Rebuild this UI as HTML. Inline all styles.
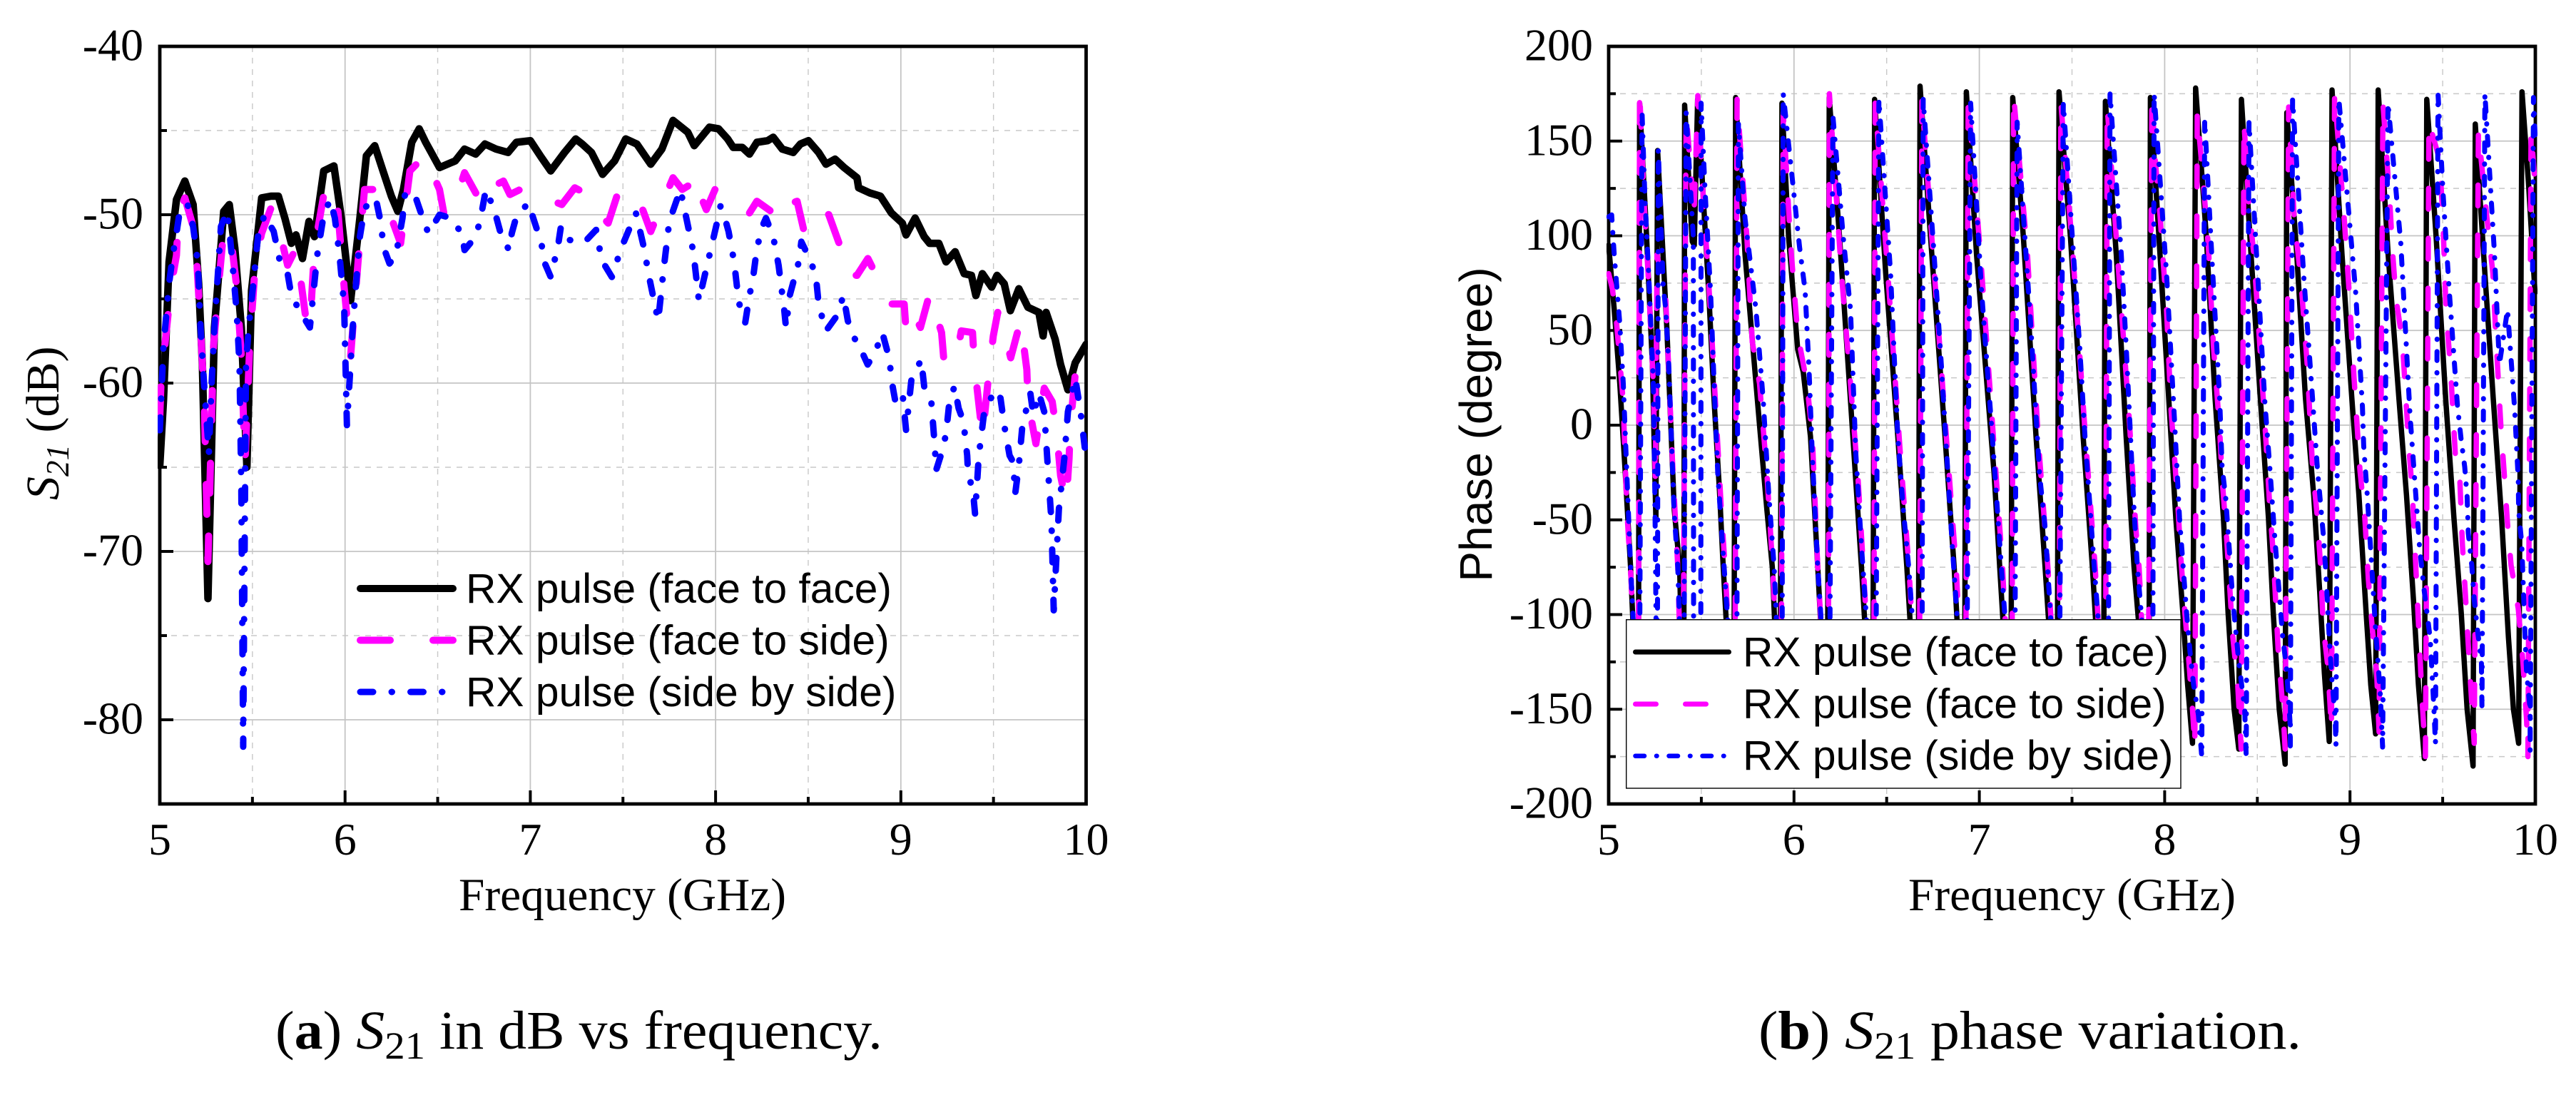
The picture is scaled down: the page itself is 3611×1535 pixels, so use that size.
<!DOCTYPE html>
<html lang="en">
<head>
<meta charset="utf-8">
<title>S21 magnitude and phase vs frequency</title>
<style>
html,body{margin:0;padding:0;background:#fff;}
svg{display:block;}
text{fill:#000;}
.num{font-family:"Liberation Serif",serif;font-size:64px;}
.ser{font-family:"Liberation Serif",serif;}
.san{font-family:"Liberation Sans",sans-serif;}
</style>
</head>
<body>
<svg id="figure" xmlns="http://www.w3.org/2000/svg" width="3611" height="1535" viewBox="0 0 3611 1535">
  <rect x="0" y="0" width="3611" height="1535" fill="#fff"/>
  <defs>
    <clipPath id="clipA"><rect x="221" y="62" width="1304" height="1067"/></clipPath>
    <clipPath id="clipB"><rect x="2252" y="62" width="1305" height="1067"/></clipPath>
  </defs>
  <g id="panelA"></g>
  <g id="panelB"></g>

  <text class="ser" font-size="66" transform="translate(82,701) rotate(-90)"><tspan font-style="italic">S</tspan><tspan font-style="italic" font-size="45" dy="14">21</tspan><tspan dy="-14"> (dB)</tspan></text>
  <text class="ser" font-size="65" x="872.5" y="1276" text-anchor="middle" textLength="459" lengthAdjust="spacingAndGlyphs">Frequency (GHz)</text>

  <text class="san" font-size="64" transform="translate(2091,595) rotate(-90)" text-anchor="middle">Phase (degree)</text>
  <text class="ser" font-size="65" x="2904.5" y="1276" text-anchor="middle" textLength="459" lengthAdjust="spacingAndGlyphs">Frequency (GHz)</text>

  <text class="ser" font-size="76" x="386" y="1470" textLength="851" lengthAdjust="spacingAndGlyphs">(<tspan font-weight="bold">a</tspan>) <tspan font-style="italic">S</tspan><tspan font-size="54" dy="14">21</tspan><tspan dy="-14"> in dB vs frequency.</tspan></text>
  <text class="ser" font-size="76" x="2465" y="1470" textLength="761" lengthAdjust="spacingAndGlyphs">(<tspan font-weight="bold">b</tspan>) <tspan font-style="italic">S</tspan><tspan font-size="54" dy="14">21</tspan><tspan dy="-14"> phase variation.</tspan></text>
</svg>
<script>
// ---------- shared axis values ----------
var freqTickValues = [5, 6, 7, 8, 9, 10];
var freqTickLabels = ['5', '6', '7', '8', '9', '10'];
var freqMinorTicks = [5.5, 6.5, 7.5, 8.5, 9.5];
var legendLabels = ['RX pulse (face to face)', 'RX pulse (face to side)', 'RX pulse (side by side)'];

// ---------- panel (a): S21 magnitude ----------
var s21TickValues = [-40, -50, -60, -70, -80];
var s21TickLabels = ['-40', '-50', '-60', '-70', '-80'];
var s21MinorTicks = [-45, -55, -65, -75];

var s21FaceFaceFreq = [5.00,5.02,5.05,5.09,5.135,5.18,5.21,5.23,5.26,5.295,5.345,5.375,5.405,5.44,5.47,5.495,5.55,5.60,5.64,5.675,5.71,5.735,5.77,5.805,5.835,5.885,5.94,5.98,6.03,6.08,6.115,6.16,6.205,6.25,6.285,6.315,6.36,6.40,6.435,6.47,6.51,6.595,6.645,6.705,6.755,6.815,6.88,6.925,7.00,7.06,7.11,7.185,7.245,7.28,7.33,7.39,7.455,7.515,7.575,7.65,7.71,7.77,7.85,7.885,7.967,8.016,8.065,8.095,8.144,8.183,8.223,8.281,8.311,8.36,8.419,8.458,8.501,8.556,8.596,8.645,8.694,8.763,8.772,8.831,8.89,8.949,9.008,9.028,9.077,9.126,9.155,9.205,9.244,9.293,9.342,9.381,9.405,9.44,9.49,9.519,9.558,9.591,9.637,9.686,9.745,9.768,9.784,9.833,9.862,9.902,9.941,10.0];
var s21FaceFaceDb = [-64.9,-61.0,-52.8,-49.1,-48.0,-49.4,-54.1,-58.9,-72.8,-56.7,-49.8,-49.4,-52.0,-56.7,-65.0,-54.5,-49.0,-48.9,-48.9,-50.2,-51.7,-51.2,-52.6,-50.4,-51.3,-47.4,-47.1,-50.2,-55.1,-50.2,-46.5,-45.9,-47.4,-48.9,-49.8,-48.5,-45.7,-44.9,-45.7,-46.4,-47.2,-46.8,-46.1,-46.4,-45.8,-46.1,-46.3,-45.7,-45.6,-46.6,-47.4,-46.3,-45.5,-45.8,-46.3,-47.6,-46.8,-45.5,-45.8,-47.0,-46.1,-44.4,-45.1,-45.9,-44.8,-44.9,-45.5,-46.0,-46.0,-46.4,-45.7,-45.6,-45.4,-46.1,-46.3,-45.8,-45.6,-46.3,-47.0,-46.7,-47.2,-47.8,-48.4,-48.7,-48.9,-49.9,-50.5,-51.2,-50.2,-51.3,-51.7,-51.7,-52.8,-52.2,-53.5,-53.6,-54.8,-53.5,-54.3,-53.6,-54.1,-55.7,-54.4,-55.5,-55.8,-57.2,-55.8,-57.4,-58.9,-60.4,-58.8,-57.7];

var s21FaceSideFreq = [5.00,5.01,5.025,5.06,5.09,5.10,5.135,5.18,5.20,5.22,5.24,5.26,5.29,5.32,5.345,5.38,5.415,5.44,5.46,5.485,5.515,5.55,5.60,5.64,5.69,5.735,5.75,5.785,5.81,5.835,5.895,5.96,5.995,6.03,6.07,6.105,6.18,6.25,6.30,6.35,6.43,6.51,6.535,6.61,6.645,6.74,6.765,6.855,6.89,6.965,7.06,7.17,7.24,7.31,7.37,7.42,7.47,7.54,7.60,7.65,7.71,7.77,7.82,7.85,7.89,7.92,7.95,7.997,8.065,8.124,8.183,8.223,8.30,8.34,8.36,8.44,8.478,8.55,8.576,8.611,8.67,8.71,8.763,8.822,8.89,8.949,9.018,9.028,9.067,9.106,9.155,9.22,9.234,9.299,9.326,9.387,9.397,9.441,9.474,9.499,9.523,9.568,9.593,9.646,9.68,9.686,9.729,9.774,9.817,9.843,9.862,9.892,9.908,9.915,9.941,10.0];
var s21FaceSideDb = [-62.0,-58.9,-58.0,-54.3,-52.4,-50.0,-49.0,-50.7,-52.8,-56.7,-61.0,-70.6,-57.8,-53.9,-50.9,-51.0,-54.3,-58.4,-64.7,-57.8,-53.0,-51.1,-49.6,-50.7,-53.0,-52.0,-53.0,-55.9,-56.7,-52.0,-48.2,-49.6,-54.3,-58.4,-52.8,-48.5,-48.5,-50.2,-51.7,-47.4,-46.5,-48.5,-50.0,-48.7,-47.5,-49.4,-48.5,-48.0,-48.8,-48.4,-48.9,-49.4,-48.4,-48.8,-49.9,-50.5,-48.8,-48.4,-49.5,-51.0,-49.4,-47.8,-48.5,-48.3,-47.6,-48.9,-49.7,-48.5,-49.0,-49.7,-49.9,-49.2,-49.8,-48.9,-49.5,-49.2,-51.0,-50.7,-49.7,-50.0,-51.8,-53.6,-53.6,-52.6,-54.1,-55.3,-55.3,-56.9,-55.8,-56.7,-54.7,-57.0,-58.9,-58.5,-56.9,-57.0,-58.9,-63.2,-59.5,-57.2,-55.8,-57.4,-58.5,-56.3,-59.2,-61.1,-63.6,-60.3,-61.1,-63.1,-65.5,-67.1,-64.5,-62.5,-59.5,-59.3];

var s21SideSideFreq = [5.00,5.02,5.05,5.07,5.09,5.11,5.15,5.18,5.205,5.22,5.24,5.265,5.28,5.295,5.33,5.365,5.39,5.415,5.43,5.44,5.45,5.465,5.48,5.505,5.53,5.565,5.615,5.645,5.69,5.71,5.76,5.81,5.85,5.885,5.92,5.945,5.97,5.995,6.01,6.045,6.08,6.105,6.165,6.19,6.21,6.24,6.275,6.31,6.325,6.385,6.425,6.45,6.51,6.57,6.63,6.645,6.705,6.73,6.76,6.805,6.84,6.885,6.90,6.925,6.99,7.01,7.06,7.075,7.11,7.15,7.165,7.21,7.295,7.355,7.385,7.44,7.49,7.57,7.61,7.645,7.69,7.72,7.75,7.81,7.88,7.91,7.967,8.007,8.026,8.05,8.07,8.10,8.125,8.16,8.183,8.203,8.223,8.252,8.272,8.311,8.34,8.37,8.38,8.40,8.449,8.463,8.507,8.541,8.557,8.596,8.655,8.69,8.714,8.743,8.792,8.821,8.861,8.90,8.939,8.949,8.969,9.008,9.028,9.057,9.11,9.126,9.165,9.185,9.19,9.224,9.244,9.263,9.29,9.312,9.338,9.358,9.362,9.391,9.401,9.421,9.45,9.509,9.538,9.558,9.587,9.607,9.617,9.637,9.656,9.699,9.715,9.745,9.774,9.794,9.813,9.825,9.853,9.882,9.902,9.941,9.97,10.0];
var s21SideSideDb = [-62.8,-57.8,-54.1,-52.4,-51.1,-49.6,-49.4,-50.7,-52.8,-56.7,-60.2,-64.2,-60.0,-56.7,-50.7,-49.8,-52.6,-55.8,-58.9,-66.4,-81.6,-58.9,-56.7,-54.1,-51.3,-50.0,-51.0,-52.6,-53.5,-54.8,-55.8,-56.7,-52.4,-50.0,-49.1,-50.2,-52.4,-55.4,-62.5,-56.1,-51.3,-49.6,-49.0,-50.3,-52.0,-52.9,-52.4,-50.2,-48.6,-49.1,-50.4,-51.1,-50.0,-50.2,-51.1,-52.1,-51.3,-50.3,-48.5,-49.7,-51.1,-52.1,-51.1,-50.1,-49.3,-50.0,-51.7,-52.8,-53.7,-51.8,-50.7,-51.5,-51.6,-50.9,-52.7,-53.7,-52.0,-49.9,-51.8,-53.9,-56.3,-53.2,-50.4,-48.5,-52.2,-55.1,-52.4,-50.5,-49.5,-50.2,-51.0,-52.8,-55.2,-56.4,-54.8,-53.7,-52.0,-50.7,-50.2,-51.3,-53.0,-55.6,-56.7,-54.8,-52.8,-51.6,-52.6,-53.6,-55.4,-56.9,-56.0,-54.8,-56.3,-57.2,-58.2,-58.9,-58.2,-57.0,-58.6,-59.8,-61.0,-60.5,-62.8,-59.8,-58.6,-60.2,-61.2,-64.0,-65.2,-64.0,-63.0,-61.0,-60.2,-61.5,-62.3,-64.3,-65.2,-66.6,-67.8,-64.3,-61.7,-60.4,-60.9,-62.5,-64.3,-64.7,-66.6,-64.9,-62.5,-60.6,-61.9,-60.6,-61.7,-65.1,-68.2,-73.5,-67.5,-64.5,-61.7,-59.7,-61.7,-64.5];

// ---------- panel (b): S21 phase ----------
var phaseTickValues = [200, 150, 100, 50, 0, -50, -100, -150, -200];
var phaseTickLabels = ['200', '150', '100', '50', '0', '-50', '-100', '-150', '-200'];
var phaseMinorTicks = [175, 125, 75, 25, -25, -75, -125, -175];

var phaseFaceFaceFreq = [5.0,5.03,5.06,5.09,5.118,5.16,5.167,5.20,5.236,5.255,5.264,5.314,5.354,5.383,5.405,5.41,5.451,5.462,5.48,5.54,5.569,5.598,5.618,5.675,5.685,5.736,5.814,5.854,5.883,5.925,5.935,5.971,6.02,6.05,6.089,6.128,6.18,6.19,6.246,6.305,6.364,6.425,6.435,6.495,6.56,6.609,6.67,6.68,6.737,6.815,6.864,6.92,6.93,6.985,7.08,7.11,7.17,7.18,7.238,7.306,7.355,7.42,7.43,7.492,7.56,7.61,7.67,7.68,7.739,7.792,7.835,7.915,7.923,7.975,8.022,8.06,8.098,8.124,8.15,8.167,8.225,8.272,8.317,8.342,8.375,8.40,8.414,8.466,8.516,8.56,8.586,8.618,8.65,8.659,8.713,8.76,8.804,8.836,8.862,8.888,8.903,8.957,9.01,9.048,9.087,9.112,9.138,9.152,9.206,9.264,9.305,9.343,9.369,9.401,9.414,9.465,9.516,9.561,9.60,9.632,9.664,9.676,9.728,9.773,9.818,9.855,9.882,9.91,9.928,9.963,9.998];
var phaseFaceFaceDeg = [95,61,22,-26,-75,-170,170,109,32,-50,145,51,-45,-75,-170,169,97,95,172,70,13,-35,-75,-175,173,90,0,-45,-75,-170,170,99,40,28,-6,-75,-172,173,99,13,-75,-175,172,80,-6,-75,-175,179,99,-6,-75,-175,176,90,-26,-75,-172,173,99,-6,-75,-172,176,99,-6,-75,-172,171,90,-6,-75,-170,173,90,14,-49,-99,-137,-168,178,99,14,-49,-99,-150,-171,172,90,14,-49,-99,-150,-179,165,90,14,-37,-87,-131,-167,177,90,14,-37,-99,-137,-163,177,90,14,-37,-93,-137,-176,172,99,14,-49,-99,-150,-180,159,80,14,-49,-112,-150,-168,176,128,70];

var phaseFaceSideFreq = [5.0,5.02,5.04,5.078,5.098,5.12,5.16,5.167,5.19,5.216,5.241,5.252,5.261,5.308,5.343,5.373,5.40,5.418,5.451,5.46,5.481,5.51,5.55,5.579,5.608,5.628,5.68,5.693,5.746,5.775,5.814,5.854,5.885,5.93,5.942,5.981,6.02,6.07,6.099,6.128,6.185,6.191,6.256,6.305,6.344,6.374,6.43,6.438,6.51,6.57,6.62,6.675,6.69,6.75,6.825,6.875,6.925,6.94,7.01,7.09,7.125,7.175,7.185,7.26,7.32,7.37,7.43,7.44,7.505,7.575,7.625,7.68,7.69,7.748,7.774,7.809,7.844,7.862,7.91,7.931,7.949,7.975,8.01,8.035,8.054,8.073,8.086,8.105,8.13,8.15,8.163,8.176,8.21,8.236,8.263,8.297,8.31,8.336,8.368,8.394,8.413,8.428,8.455,8.481,8.516,8.548,8.567,8.586,8.612,8.638,8.65,8.669,8.699,8.734,8.769,8.798,8.824,8.843,8.855,8.881,8.90,8.917,8.969,8.995,9.021,9.054,9.08,9.099,9.119,9.144,9.157,9.178,9.213,9.231,9.248,9.283,9.317,9.337,9.362,9.375,9.388,9.407,9.426,9.484,9.501,9.519,9.541,9.568,9.593,9.606,9.619,9.636,9.651,9.67,9.693,9.737,9.771,9.785,9.815,9.831,9.85,9.869,9.908,9.933,9.953,9.96,9.977,9.998];
var phaseFaceSideDeg = [80,72,57,13,-45,-80,-170,177,120,74,22,-30,90,67,-16,-75,-170,165,124,110,174,121,59,7,-45,-75,-172,172,99,44,22,-26,-75,-172,165,96,48,22,-6,-75,-172,175,80,22,-26,-75,-172,170,75,-10,-75,-172,172,90,-10,-75,-172,172,85,-26,-75,-172,174,90,-10,-75,-172,170,90,-10,-75,-172,168,86,51,3,-54,-75,-170,174,140,111,61,7,-18,-45,-68,-94,-124,-150,-170,165,126,94,42,-3,-28,-62,-112,-137,-171,160,115,90,38,-11,-43,-68,-118,-150,-171,168,109,78,32,-22,-49,-77,-106,-128,-161,175,109,71,26,-24,-49,-81,-106,-131,-162,170,121,90,67,44,-11,-37,-89,-116,-143,-175,160,140,109,59,32,-15,-30,-62,-83,-112,-137,-168,155,111,80,51,-2,-24,-52,-74,-97,-125,-156,-175,155,128];

var phaseSideSideFreq = [5.0,5.016,5.03,5.059,5.079,5.098,5.118,5.165,5.18,5.196,5.216,5.241,5.249,5.262,5.268,5.294,5.308,5.324,5.353,5.373,5.405,5.418,5.457,5.459,5.497,5.499,5.52,5.55,5.569,5.589,5.618,5.69,5.70,5.736,5.795,5.834,5.863,5.893,5.935,5.942,6.03,6.06,6.07,6.08,6.099,6.128,6.19,6.21,6.266,6.305,6.334,6.364,6.44,6.458,6.521,6.56,6.59,6.619,6.69,6.697,6.756,6.795,6.854,6.93,6.953,7.012,7.07,7.119,7.19,7.204,7.276,7.325,7.355,7.43,7.453,7.541,7.57,7.62,7.695,7.705,7.766,7.792,7.835,7.853,7.935,7.943,8.01,8.054,8.08,8.118,8.137,8.156,8.182,8.20,8.216,8.254,8.297,8.31,8.33,8.368,8.40,8.432,8.44,8.455,8.498,8.54,8.567,8.593,8.637,8.657,8.676,8.678,8.69,8.751,8.798,8.824,8.856,8.869,8.888,8.90,8.92,8.924,8.94,9.03,9.067,9.074,9.093,9.125,9.138,9.164,9.176,9.205,9.274,9.324,9.35,9.375,9.40,9.433,9.452,9.461,9.475,9.501,9.536,9.58,9.60,9.619,9.632,9.638,9.657,9.67,9.69,9.709,9.712,9.728,9.78,9.806,9.85,9.888,9.908,9.91,9.927,9.933,9.94,9.946,9.953,9.972,9.972,9.99,10.0];
var phaseSideSideDeg = [110,111,90,55,22,-26,-74,-170,165,119,80,22,-35,-170,145,74,61,32,-45,-75,-172,165,99,-172,-172,170,124,70,22,-26,-68,-172,159,109,61,13,-35,-75,-172,175,94,71,51,32,-16,-75,-170,163,99,61,-16,-64,-172,172,80,-6,-45,-75,-172,172,90,32,-64,-172,170,71,-6,-75,-172,160,55,-26,-54,-172,170,42,-6,-75,-172,175,90,42,-45,-75,-172,175,80,1,-49,-99,-120,-137,-153,-175,161,90,13,-22,-39,-93,-125,-150,-175,160,86,13,-22,-58,-112,-128,-156,-170,172,78,14,-23,-58,-77,-112,-131,-155,-169,172,71,10,-11,-37,-87,-108,-143,-170,170,96,5,-30,-64,-87,-113,-148,-168,175,124,70,10,-8,-22,-38,-57,-74,-92,-110,-125,-150,175,90,32,61,9,-29,-45,-63,-80,-99,-116,-131,-150,-172,173,150];

// ---------- axis functions ----------
function xScale(f, left, right) { return left + (f - 5) / 5 * (right - left); }
function dbScale(v) { return 65 + (-40 - v) / 45 * 1062; }
function phaseScale(v) { return 65 + (200 - v) / 400 * 1062; }

var SVGNS = 'http://www.w3.org/2000/svg';
function make(tag, parent) {
  var el = document.createElementNS(SVGNS, tag);
  parent.appendChild(el);
  return el;
}
function pointList(freqs, vals, yFn, left, right) {
  var out = [];
  for (var i = 0; i < freqs.length && i < vals.length; i++) {
    out.push(xScale(freqs[i], left, right).toFixed(1) + ',' + yFn(vals[i]).toFixed(1));
  }
  return out.join(' ');
}
function styleLine(el, color, width, dash) {
  el.setAttribute('fill', 'none');
  el.setAttribute('stroke', color);
  el.setAttribute('stroke-width', width);
  el.setAttribute('stroke-linecap', 'round');
  el.setAttribute('stroke-linejoin', 'round');
  if (dash) { el.setAttribute('stroke-dasharray', dash); }
}

function drawFrameAndGrid(g, left, right, yFn, yValues, yLabels, yMinor, labelRight) {
  var top = 65, bottom = 1127, i, el;
  // minor grid
  for (i = 0; i < yMinor.length; i++) {
    el = make('line', g);
    
    
    el.setAttribute('x1', left); el.setAttribute('x2', right);
    el.setAttribute('y1', yFn(yMinor[i])); el.setAttribute('y2', yFn(yMinor[i]));
    el.setAttribute('stroke', '#c8c8c8'); el.setAttribute('stroke-width', '1.4'); el.setAttribute('stroke-dasharray', '8 8');
  }
  for (i = 0; i < freqMinorTicks.length; i++) {
    el = make('line', g);
    
    
    var mx = xScale(freqMinorTicks[i], left, right);
    el.setAttribute('x1', mx); el.setAttribute('x2', mx);
    el.setAttribute('y1', top); el.setAttribute('y2', bottom);
    el.setAttribute('stroke', '#c8c8c8'); el.setAttribute('stroke-width', '1.4'); el.setAttribute('stroke-dasharray', '8 8');
  }
  // major grid
  for (i = 1; i < yValues.length; i++) {
    if (yFn(yValues[i]) >= bottom) { continue; }
    el = make('line', g);
    
    
    el.setAttribute('x1', left); el.setAttribute('x2', right);
    el.setAttribute('y1', yFn(yValues[i])); el.setAttribute('y2', yFn(yValues[i]));
    el.setAttribute('stroke', '#c4c4c4'); el.setAttribute('stroke-width', '1.8');
  }
  for (i = 1; i < freqTickValues.length - 1; i++) {
    el = make('line', g);
    
    
    var gx = xScale(freqTickValues[i], left, right);
    el.setAttribute('x1', gx); el.setAttribute('x2', gx);
    el.setAttribute('y1', top); el.setAttribute('y2', bottom);
    el.setAttribute('stroke', '#c4c4c4'); el.setAttribute('stroke-width', '1.8');
  }
  // frame
  el = make('rect', g);
  
  
  el.setAttribute('x', left); el.setAttribute('y', top);
  el.setAttribute('width', right - left); el.setAttribute('height', bottom - top);
  el.setAttribute('fill', 'none'); el.setAttribute('stroke', '#000'); el.setAttribute('stroke-width', '4.8');
  // y ticks + labels
  for (i = 0; i < yValues.length; i++) {
    var yy = yFn(yValues[i]);
    if (i > 0 && yy < bottom) {
      el = make('line', g);
      
      
      el.setAttribute('x1', left); el.setAttribute('x2', left + 19);
      el.setAttribute('y1', yy); el.setAttribute('y2', yy);
      el.setAttribute('stroke', '#000'); el.setAttribute('stroke-width', '4');
    }
    el = make('text', g);
    
    
    el.setAttribute('class', 'num');
    el.setAttribute('x', labelRight);
    el.setAttribute('y', yy + 19.5);
    el.setAttribute('text-anchor', 'end');
    el.textContent = yLabels[i];
  }
  for (i = 0; i < yMinor.length; i++) {
    el = make('line', g);
    
    
    el.setAttribute('x1', left); el.setAttribute('x2', left + 10);
    el.setAttribute('y1', yFn(yMinor[i])); el.setAttribute('y2', yFn(yMinor[i]));
    el.setAttribute('stroke', '#000'); el.setAttribute('stroke-width', '4');
  }
  // x ticks + labels
  for (i = 0; i < freqTickValues.length; i++) {
    var xx = xScale(freqTickValues[i], left, right);
    if (i > 0 && i < freqTickValues.length - 1) {
      el = make('line', g);
      
      
      el.setAttribute('x1', xx); el.setAttribute('x2', xx);
      el.setAttribute('y1', bottom); el.setAttribute('y2', bottom - 19);
      el.setAttribute('stroke', '#000'); el.setAttribute('stroke-width', '4');
    }
    el = make('text', g);
    
    
    el.setAttribute('class', 'num');
    el.setAttribute('x', xx);
    el.setAttribute('y', 1198);
    el.setAttribute('text-anchor', 'middle');
    el.textContent = freqTickLabels[i];
  }
  for (i = 0; i < freqMinorTicks.length; i++) {
    el = make('line', g);
    
    
    var tx = xScale(freqMinorTicks[i], left, right);
    el.setAttribute('x1', tx); el.setAttribute('x2', tx);
    el.setAttribute('y1', bottom); el.setAttribute('y2', bottom - 10);
    el.setAttribute('stroke', '#000'); el.setAttribute('stroke-width', '4');
  }
}

function drawLegendRows(g, x1, x2, textX, rowY, baseY, widths, dashes) {
  var colors = ['#000000', '#ff00ff', '#0000ff'];
  for (var i = 0; i < legendLabels.length; i++) {
    var ln = make('line', g);
    
    
    ln.setAttribute('x1', x1); ln.setAttribute('x2', x2);
    ln.setAttribute('y1', rowY[i]); ln.setAttribute('y2', rowY[i]);
    styleLine(ln, colors[i], widths[i], dashes[i]);
    var tx = make('text', g);
    
    
    tx.setAttribute('class', 'san');
    tx.setAttribute('font-size', '58.7');
    tx.setAttribute('x', textX);
    tx.setAttribute('y', baseY[i]);
    tx.textContent = legendLabels[i];
  }
}

// ---------- panel A ----------
var panelA = document.getElementById('panelA');
var leftA = 224, rightA = 1522.5;
drawFrameAndGrid(panelA, leftA, rightA, dbScale, s21TickValues, s21TickLabels, s21MinorTicks, 201);

var curvesA = make('g', panelA);


curvesA.setAttribute('clip-path', 'url(#clipA)');

var a1 = make('polyline', curvesA);


a1.setAttribute('points', pointList(s21FaceFaceFreq, s21FaceFaceDb, dbScale, leftA, rightA));
styleLine(a1, '#000000', 10.5, '');

var a2 = make('polyline', curvesA);


a2.setAttribute('points', pointList(s21FaceSideFreq, s21FaceSideDb, dbScale, leftA, rightA));
styleLine(a2, '#ff00ff', 10, '42 60');

var a3 = make('polyline', curvesA);


a3.setAttribute('points', pointList(s21SideSideFreq, s21SideSideDb, dbScale, leftA, rightA));
styleLine(a3, '#0000ff', 9, '18 26 0.5 26');

var legendA = make('g', panelA);


drawLegendRows(legendA, 505, 635, 653, [825, 897.5, 970], [845, 917.5, 990], [10, 10, 9], ['', '42 60', '18 26 0.5 26']);

// ---------- panel B ----------
var panelB = document.getElementById('panelB');
var leftB = 2255, rightB = 3554;
drawFrameAndGrid(panelB, leftB, rightB, phaseScale, phaseTickValues, phaseTickLabels, phaseMinorTicks, 2233);

var curvesB = make('g', panelB);


curvesB.setAttribute('clip-path', 'url(#clipB)');

var b1 = make('polyline', curvesB);


b1.setAttribute('points', pointList(phaseFaceFaceFreq, phaseFaceFaceDeg, phaseScale, leftB, rightB));
styleLine(b1, '#000000', 7.5, '');

var b2 = make('polyline', curvesB);


b2.setAttribute('points', pointList(phaseFaceSideFreq, phaseFaceSideDeg, phaseScale, leftB, rightB));
styleLine(b2, '#ff00ff', 7.5, '29 41');

var b3 = make('polyline', curvesB);


b3.setAttribute('points', pointList(phaseSideSideFreq, phaseSideSideDeg, phaseScale, leftB, rightB));
styleLine(b3, '#0000ff', 7, '12.5 17 0.5 17');

var legendB = make('g', panelB);


var legendBox = make('rect', legendB);


legendBox.setAttribute('x', 2279.7);
legendBox.setAttribute('y', 868.7);
legendBox.setAttribute('width', 777.3);
legendBox.setAttribute('height', 236.3);
legendBox.setAttribute('fill', '#fff');
legendBox.setAttribute('stroke', '#000');
legendBox.setAttribute('stroke-width', '1.4');
drawLegendRows(legendB, 2292.5, 2423.5, 2443, [914, 987, 1059.7], [934, 1006.5, 1079], [7, 7, 6.5], ['', '29 41', '12.5 17 0.5 17']);
</script>
</body>
</html>
